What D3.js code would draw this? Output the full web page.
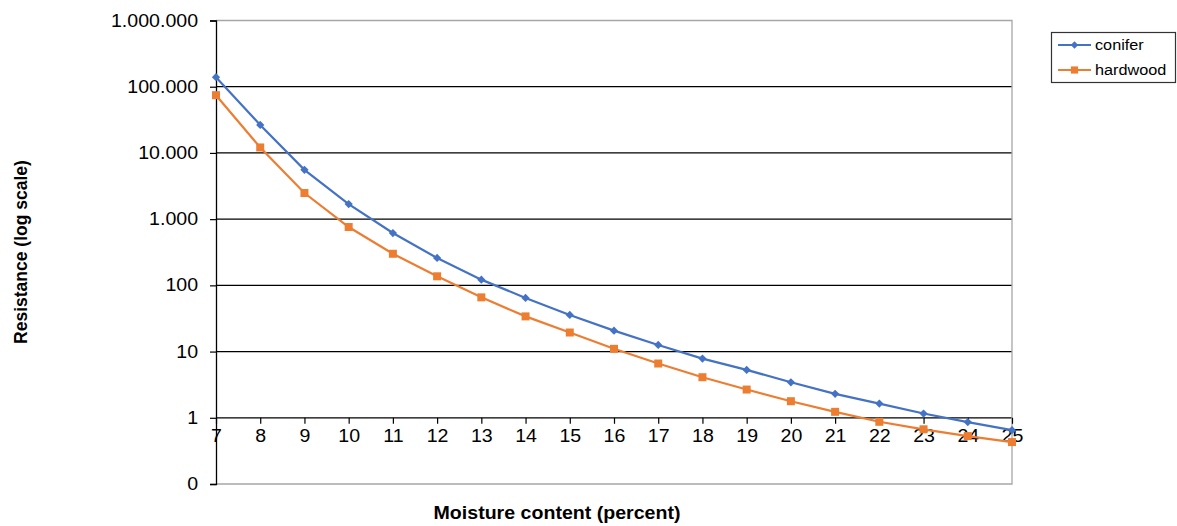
<!DOCTYPE html>
<html>
<head>
<meta charset="utf-8">
<script src="https://cdn.jsdelivr.net/npm/d3@7/dist/d3.min.js"></script>
<style>
  html, body { margin: 0; padding: 0; background: #fff; }
  svg { display: block; }
</style>
</head>
<body>
<svg id="chart" width="1177" height="526"></svg>
<script>
// ---- data ----
const moisture = [7,8,9,10,11,12,13,14,15,16,17,18,19,20,21,22,23,24,25];
const conifer  = [139000,26500,5560,1690,617,259,122,64.6,35.7,20.7,12.6,7.84,5.29,3.44,2.30,1.64,1.16,0.86,0.65];
const hardwood = [74500,12100,2480,760,300,137,65.9,34,19.4,11,6.6,4.1,2.67,1.78,1.23,0.87,0.67,0.53,0.43];
const yTickValues = [0.1,1,10,100,1000,10000,100000,1000000];
const yTickLabels = ["0","1","10","100","1.000","10.000","100.000","1.000.000"];
const seriesNames = ["conifer","hardwood"];
const seriesColors = ["#4472C4","#ED7D31"];

(function () {
// ---- layout ----
const svg = d3.select("#chart");
const pL = 216, pR = 1012, pT = 20.5, pB = 484;
const fontFam = "Liberation Sans, Arial, sans-serif";
const stretch = 1.12;

const x = d3.scaleLinear().domain([7,25]).range([pL,pR]);
const y = d3.scaleLog().domain([0.1,1e6]).range([pB,pT]);

// gridlines (black) except top/bottom borders (gray)
svg.append("g").selectAll("line")
  .data(yTickValues.filter(v => v > 0.1 && v < 1e6))
  .join("line")
  .attr("x1", pL).attr("x2", pR)
  .attr("y1", d => y(d)).attr("y2", d => y(d))
  .attr("stroke", "#000").attr("stroke-width", 1.2);

// plot border (gray) top, right, bottom
svg.append("path")
  .attr("d", `M${pL},${pT}H${pR}V${pB}H${pL}`)
  .attr("fill", "none").attr("stroke", "#a6a6a6").attr("stroke-width", 1.3);

// y axis
const yAxis = d3.axisLeft(y)
  .tickValues(yTickValues)
  .tickFormat((d,i) => yTickLabels[i])
  .tickSize(6).tickPadding(10);
const gy = svg.append("g").attr("transform", `translate(${pL},0)`).call(yAxis);
gy.select(".domain").attr("stroke", "#000").attr("stroke-width", 1.3);
gy.selectAll(".tick line").attr("stroke", "#000").attr("stroke-width", 1.2);
gy.selectAll(".tick text")
  .attr("font-family", fontFam).attr("font-size", 17.5).attr("fill", "#000")
  .attr("transform", `scale(${stretch},1)`);

// x axis at y = 1
const xAxis = d3.axisBottom(x)
  .tickValues(moisture)
  .tickFormat(d3.format("d"))
  .tickSize(6).tickPadding(6);
const gx = svg.append("g").attr("transform", `translate(0,${y(1)})`).call(xAxis);
gx.select(".domain").remove();
gx.selectAll(".tick line").attr("stroke", "#000").attr("stroke-width", 1.2);
gx.selectAll(".tick text")
  .attr("font-family", fontFam).attr("font-size", 17.5).attr("fill", "#000")
  .attr("transform", `scale(${stretch},1)`);

// axis titles
svg.append("text")
  .attr("transform", `translate(557,519) scale(${stretch},1)`)
  .attr("text-anchor", "middle")
  .attr("font-family", fontFam).attr("font-weight", "bold").attr("font-size", 17.5)
  .text("Moisture content (percent)");
svg.append("text")
  .attr("transform", `translate(27,252) rotate(-90)`)
  .attr("text-anchor", "middle")
  .attr("font-family", fontFam).attr("font-weight", "bold").attr("font-size", 17.5)
  .text("Resistance (log scale)");

// series
const allSeries = [conifer, hardwood];
const line = d3.line().x((d,i) => x(moisture[i])).y(d => y(d));
const symSizes = [34, 64];
const symRot = [45, 0];

allSeries.forEach((vals, si) => {
  svg.append("path")
    .datum(vals)
    .attr("d", line)
    .attr("fill", "none")
    .attr("stroke", seriesColors[si])
    .attr("stroke-width", 2.2);
  svg.append("g").selectAll("path")
    .data(vals)
    .join("path")
    .attr("transform", (d,i) => `translate(${x(moisture[i])},${y(d)}) rotate(${symRot[si]})`)
    .attr("d", d3.symbol().type(d3.symbolSquare).size(symSizes[si]))
    .attr("fill", seriesColors[si]);
});

// legend
const lg = svg.append("g");
lg.append("rect")
  .attr("x", 1051.5).attr("y", 32.5).attr("width", 124).attr("height", 50)
  .attr("fill", "#fff").attr("stroke", "#333").attr("stroke-width", 1.2);
seriesNames.forEach((name, si) => {
  const cy = 45 + si * 25;
  lg.append("line")
    .attr("x1", 1058).attr("x2", 1091).attr("y1", cy).attr("y2", cy)
    .attr("stroke", seriesColors[si]).attr("stroke-width", 2.2);
  lg.append("path")
    .attr("transform", `translate(1074.5,${cy}) rotate(${symRot[si]})`)
    .attr("d", d3.symbol().type(d3.symbolSquare).size(symSizes[si] * 0.8))
    .attr("fill", seriesColors[si]);
  lg.append("text")
    .attr("transform", `translate(1095,${cy + 5}) scale(${stretch},1)`)
    .attr("font-family", fontFam).attr("font-size", 14.5).attr("fill", "#000")
    .text(name);
});
})();
</script>
</body>
</html>
